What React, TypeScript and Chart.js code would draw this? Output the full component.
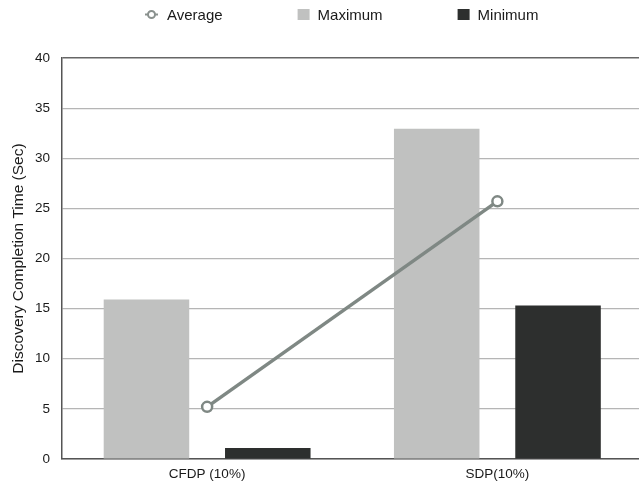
import React, { useEffect, useRef } from "react";
import { Chart, registerables } from "chart.js";

Chart.register(...registerables);

const categories = ["CFDP (10%)", "SDP(10%)"];
const averageValues = [5.2, 25.7];
const maximumValues = [15.9, 32.95];
const minimumValues = [1.1, 15.3];
const yTicks = [0, 5, 10, 15, 20, 25, 30, 35, 40];
const legendLabels = ["Average", "Maximum", "Minimum"];

const FONT = "'Liberation Sans', Arial, Helvetica, sans-serif";
const LINE_COLOR = "#7f8884";
const MAX_COLOR = "#c0c1c0";
const MIN_COLOR = "#2d2f2e";
const TEXT_COLOR = "#1a1a1a";

export default function App() {
  const ref = useRef<HTMLCanvasElement>(null);

  useEffect(() => {
    document.body.style.margin = "0";

    const customLegend = {
      id: "customLegend",
      afterDraw(chart: any) {
        const ctx = chart.ctx as CanvasRenderingContext2D;
        ctx.save();
        ctx.font = `15px ${FONT}`;
        ctx.textBaseline = "middle";
        ctx.textAlign = "left";
        let x = 145;
        const textY = 16;
        const markY = 14.5;
        legendLabels.forEach((label, i) => {
          const ds = chart.data.datasets[i];
          let textX: number;
          if (ds.type === "line") {
            ctx.strokeStyle = "#8a918e";
            ctx.lineWidth = 2;
            ctx.beginPath();
            ctx.moveTo(x, markY);
            ctx.lineTo(x + 3, markY);
            ctx.moveTo(x + 10, markY);
            ctx.lineTo(x + 13, markY);
            ctx.stroke();
            ctx.fillStyle = "#fff";
            ctx.beginPath();
            ctx.arc(x + 6.5, markY, 3.5, 0, Math.PI * 2);
            ctx.fill();
            ctx.stroke();
            textX = x + 22;
          } else {
            ctx.fillStyle = ds.backgroundColor;
            ctx.fillRect(x, markY - 5.5, 12, 11);
            textX = x + 20;
          }
          ctx.fillStyle = TEXT_COLOR;
          ctx.fillText(label, textX, textY);
          const w = ctx.measureText(label).width;
          x = textX + w + 75;
        });
        ctx.restore();
      },
    };

    const chart = new Chart(ref.current!, {
      type: "bar",
      data: {
        labels: categories,
        datasets: [
          {
            type: "line",
            label: legendLabels[0],
            data: averageValues,
            borderColor: LINE_COLOR,
            backgroundColor: "#ffffff",
            borderWidth: 3.5,
            pointRadius: 5,
            pointBorderWidth: 2.5,
            pointBackgroundColor: "#ffffff",
            pointBorderColor: LINE_COLOR,
            order: 0,
          } as any,
          {
            label: legendLabels[1],
            data: maximumValues,
            backgroundColor: MAX_COLOR,
            barPercentage: 0.705,
            categoryPercentage: 0.836,
            order: 1,
          },
          {
            label: legendLabels[2],
            data: minimumValues,
            backgroundColor: MIN_COLOR,
            barPercentage: 0.705,
            categoryPercentage: 0.836,
            order: 1,
          },
        ],
      },
      options: {
        responsive: false,
        animation: false,
        devicePixelRatio: 1,
        layout: { padding: { left: 0, right: 4, top: 58, bottom: 0 } },
        plugins: {
          tooltip: { enabled: false },
          legend: { display: false },
        },
        scales: {
          x: {
            grid: { display: false, drawTicks: false },
            border: { display: true, color: "#555", width: 1.5 },
            ticks: { color: TEXT_COLOR, padding: 7, font: { family: FONT, size: 13.5 } },
            afterFit: (s: any) => {
              s.height = 24;
            },
          },
          y: {
            min: 0,
            max: 40,
            afterBuildTicks: (s: any) => {
              s.ticks = yTicks.map((v) => ({ value: v }));
            },
            grid: {
              drawTicks: false,
              color: (c: any) => (c.tick && c.tick.value === 40 ? "#666" : "#b5b5b5"),
              lineWidth: (c: any) => (c.tick && c.tick.value === 40 ? 1.5 : 1.2),
            },
            border: { display: true, color: "#555", width: 1.5 },
            ticks: { color: TEXT_COLOR, padding: 12, font: { family: FONT, size: 13.5 } },
            title: {
              display: true,
              text: "Discovery Completion Time (Sec)",
              color: TEXT_COLOR,
              font: { family: FONT, size: 15.5 },
              padding: { top: 9, bottom: 0 },
            },
            afterFit: (s: any) => {
              s.width = 62;
            },
          },
        },
      },
      plugins: [customLegend],
    });
    return () => chart.destroy();
  }, []);

  return (
    <div style={{ width: 639, height: 483, overflow: "hidden", position: "relative", background: "#fff" }}>
      <canvas ref={ref} width={650} height={483} style={{ display: "block", width: 650, height: 483 }} />
    </div>
  );
}
